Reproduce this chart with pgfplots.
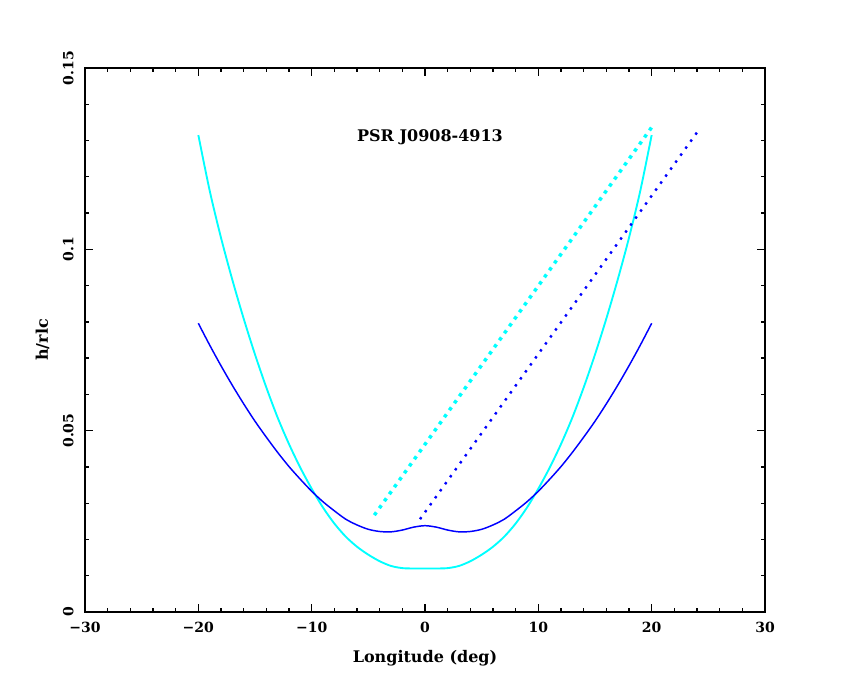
\documentclass[border=0pt]{standalone}
\usepackage{pgfplots}
\pgfplotsset{compat=1.18}
\usepackage{fontspec}
\setmainfont{DejaVu Serif}
\definecolor{pgcyan}{RGB}{0,255,255}
\definecolor{pgblue}{RGB}{0,0,255}
\begin{document}
\begin{tikzpicture}
\begin{axis}[
  scale only axis,
  width=510pt, height=408pt,
  xmin=-30, xmax=30, ymin=0, ymax=0.15,
  xtick={-30,-20,-10,0,10,20,30},
  xticklabels={−30,−20,−10,0,10,20,30},
  ytick={0,0.05,0.1,0.15},
  yticklabels={0,0.05,0.1,0.15},
  minor x tick num=4,
  minor y tick num=4,
  tick align=inside,
  major tick length=6pt,
  minor tick length=3pt,
  axis line style={line width=1.1pt},
  every tick/.style={black, line width=1pt},
  tick label style={font=\bfseries\fontsize{10.5}{12}\selectfont},
  xticklabel shift=4pt,
  yticklabel style={rotate=90, anchor=south},
  yticklabel shift=5pt,
  xlabel={Longitude (deg)},
  ylabel={h/rlc},
  label style={font=\bfseries\fontsize{12}{14}\selectfont},
  xlabel style={at={([yshift=-37.5pt]axis description cs:0.5,0)}, anchor=base},
  ylabel style={at={([xshift=-27.75pt]axis description cs:0,0.5)}, anchor=base},
]
% cyan solid curve
\addplot[pgcyan, line width=1.4pt, smooth] coordinates {
(-20,0.1315) (-19,0.1162) (-18,0.1032) (-17,0.0916) (-16,0.0809) (-15,0.0710)
(-14,0.0619) (-13,0.0536) (-12,0.0463) (-11,0.0398) (-10,0.0340) (-9,0.0288)
(-8,0.0244) (-7,0.0208) (-6,0.0180) (-5,0.0158) (-4,0.0140) (-3,0.0127)
(-2,0.0121) (-1,0.0120) (0,0.0120) (1,0.0120) (2,0.0121) (3,0.0127)
(4,0.0140) (5,0.0158) (6,0.0180) (7,0.0208) (8,0.0244) (9,0.0288)
(10,0.0340) (11,0.0398) (12,0.0463) (13,0.0536) (14,0.0619) (15,0.0710)
(16,0.0809) (17,0.0916) (18,0.1032) (19,0.1162) (20,0.1315)
};
% blue solid curve
\addplot[pgblue, line width=1.1pt, smooth] coordinates {
(-20,0.0796) (-19,0.0736) (-18,0.0679) (-17,0.0625) (-16,0.0574) (-15,0.0526)
(-14,0.0482) (-13,0.0440) (-12,0.0401) (-11,0.0366) (-10,0.0333) (-9,0.0304)
(-8,0.0279) (-7,0.0256) (-6,0.0240) (-5,0.0228) (-4,0.0222) (-3,0.0221)
(-2,0.0226) (-1,0.0234) (0,0.0238) (1,0.0234) (2,0.0226) (3,0.0221)
(4,0.0222) (5,0.0228) (6,0.0240) (7,0.0256) (8,0.0279) (9,0.0304)
(10,0.0333) (11,0.0366) (12,0.0401) (13,0.0440) (14,0.0482) (15,0.0526)
(16,0.0574) (17,0.0625) (18,0.0679) (19,0.0736) (20,0.0796)
};
% cyan dotted line
\addplot[pgcyan, line width=2.6pt, dash pattern=on 2.6pt off 3.85pt] coordinates {
(-4.47,0.0267) (20.15,0.1343)
};
% blue dotted line
\addplot[pgblue, line width=1.8pt, dash pattern=on 1.8pt off 4.65pt] coordinates {
(-0.44,0.0256) (24.2,0.1331)
};
\node[anchor=base, font=\bfseries\fontsize{12}{14}\selectfont] at (axis cs:0.44,0.1297) {PSR J0908-4913};
\end{axis}
\pgfresetboundingbox
\path (current axis.south west)+(-63.75pt,-51pt) coordinate (bbA);
\path (current axis.north east)+(63.75pt,51pt) coordinate (bbB);
\path[use as bounding box] (bbA) rectangle (bbB);
\end{tikzpicture}
\end{document}
